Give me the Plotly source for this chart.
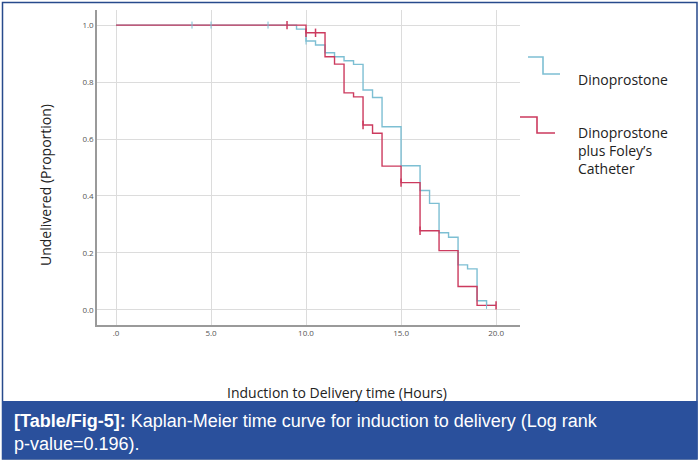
import plotly.graph_objects as go

# Kaplan-Meier steps
dino_time = [0, 9.5, 10, 10.5, 11, 11.5, 12, 12.5, 13, 13.5, 14, 15, 16, 16.5, 17, 17.5, 18, 18.5, 19, 19.5, 20]
dino_surv = [1.0, 0.986, 0.944, 0.93, 0.903, 0.889, 0.875, 0.862, 0.772, 0.746, 0.643, 0.506, 0.419, 0.374,
             0.271, 0.255, 0.158, 0.144, 0.032, 0.016, 0.016]
dino_cens_t = [4, 5, 8, 10, 19.5]
dino_cens_s = [1.0, 1.0, 1.0, 0.944, 0.016]

foley_time = [0, 10, 11, 11.5, 12, 12.5, 13, 13.5, 14, 15, 16, 17, 18, 19, 20]
foley_surv = [1.0, 0.973, 0.889, 0.863, 0.762, 0.748, 0.649, 0.62, 0.505, 0.447, 0.278, 0.208, 0.082, 0.016, 0.016]
foley_cens_t = [9, 10, 10.5, 13, 15, 16, 20]
foley_cens_s = [1.0, 0.973, 0.973, 0.649, 0.447, 0.278, 0.016]

x_ticks = [0, 5, 10, 15, 20]
x_labels = ['.0', '5.0', '10.0', '15.0', '20.0']
y_ticks = [0, 0.2, 0.4, 0.6, 0.8, 1.0]
y_labels = ['0.0', '0.2', '0.4', '0.6', '0.8', '1.0']

BLUE = '#7dbfd3'
RED = '#cc3a5e'
FONT = 'Open Sans'

W, H = 700, 462
L, R, T, B = 97, 520, 10, 325  # plot area in pixels


def px(x):
    return (x - L) / (R - L)


def py(y):
    return (B - y) / (B - T)


fig = go.Figure()
fig.add_trace(go.Scatter(x=dino_time, y=dino_surv, mode='lines', line_shape='hv',
                         line=dict(color=BLUE, width=1.4)))
fig.add_trace(go.Scatter(x=foley_time, y=foley_surv, mode='lines', line_shape='hv',
                         line=dict(color=RED, width=1.4)))
fig.add_trace(go.Scatter(x=dino_cens_t, y=dino_cens_s, mode='markers',
                         marker=dict(symbol='line-ns', size=5, line=dict(color=BLUE, width=1))))
fig.add_trace(go.Scatter(x=foley_cens_t, y=foley_cens_s, mode='markers',
                         marker=dict(symbol='line-ns', size=6, line=dict(color=RED, width=1.5))))

axis_common = dict(showgrid=True, gridcolor='#dcdcdc', gridwidth=1, zeroline=False,
                   showline=True, linecolor='#9a9a9a', linewidth=1.5, ticks='',
                   tickfont=dict(family=FONT, size=8, color='#555555'))
fig.update_xaxes(range=[-1.0, 21.26], tickvals=x_ticks, ticktext=x_labels, **axis_common)
fig.update_yaxes(range=[-0.053, 1.053], tickvals=y_ticks, ticktext=y_labels, **axis_common)

shapes = [
    # outer frame
    dict(type='rect', xref='paper', yref='paper', x0=px(2.5), x1=px(697), y0=py(2.5), y1=py(459),
         line=dict(color='#274a8c', width=1.5), fillcolor='rgba(0,0,0,0)', layer='below'),
    # caption band
    dict(type='rect', xref='paper', yref='paper', x0=px(2), x1=px(697.5), y0=py(401), y1=py(459),
         line=dict(width=0), fillcolor='#2a509c'),
    # legend glyphs
    dict(type='path', xref='paper', yref='paper',
         path=f'M {px(528)} {py(57)} L {px(543)} {py(57)} L {px(543)} {py(74)} L {px(560)} {py(74)}',
         line=dict(color=BLUE, width=1.6)),
    dict(type='path', xref='paper', yref='paper',
         path=f'M {px(520)} {py(117)} L {px(537)} {py(117)} L {px(537)} {py(133)} L {px(555)} {py(133)}',
         line=dict(color=RED, width=1.6)),
]

annotations = [
    dict(text='Dinoprostone', x=px(576), y=py(79), xref='paper', yref='paper', showarrow=False,
         xanchor='left', yanchor='middle', font=dict(family=FONT, size=14, color='#222222')),
    dict(text='Dinoprostone<br>plus Foley\u2019s<br>Catheter', x=px(576), y=py(150), xref='paper', yref='paper',
         showarrow=False, xanchor='left', yanchor='middle', align='left',
         font=dict(family=FONT, size=14, color='#222222')),
    dict(text='Undelivered (Proportion)', x=px(45), y=py(185), xref='paper', yref='paper', showarrow=False,
         textangle=-90, xanchor='center', yanchor='middle', font=dict(family=FONT, size=14, color='#222222')),
    dict(text='Induction to Delivery time (Hours)', x=px(337), y=py(392), xref='paper', yref='paper',
         showarrow=False, xanchor='center', yanchor='middle', font=dict(family=FONT, size=14, color='#222222')),
    dict(text='<b>[Table/Fig-5]:</b> Kaplan-Meier time curve for induction to delivery (Log rank<br>p-value=0.196).',
         x=px(12), y=py(432), xref='paper', yref='paper', showarrow=False, xanchor='left', yanchor='middle',
         align='left', font=dict(family='Liberation Sans', size=18, color='white')),
]

fig.update_layout(
    width=W, height=H, autosize=False,
    margin=dict(l=L, r=W - R, t=T, b=H - B),
    plot_bgcolor='white', paper_bgcolor='white',
    showlegend=False,
    shapes=shapes, annotations=annotations,
)

# drop the page's default 8px body margin so the figure sits in the window corner
fig.write_html('out.html', config={'displayModeBar': False},
               post_script="document.body.style.margin='0px';")
